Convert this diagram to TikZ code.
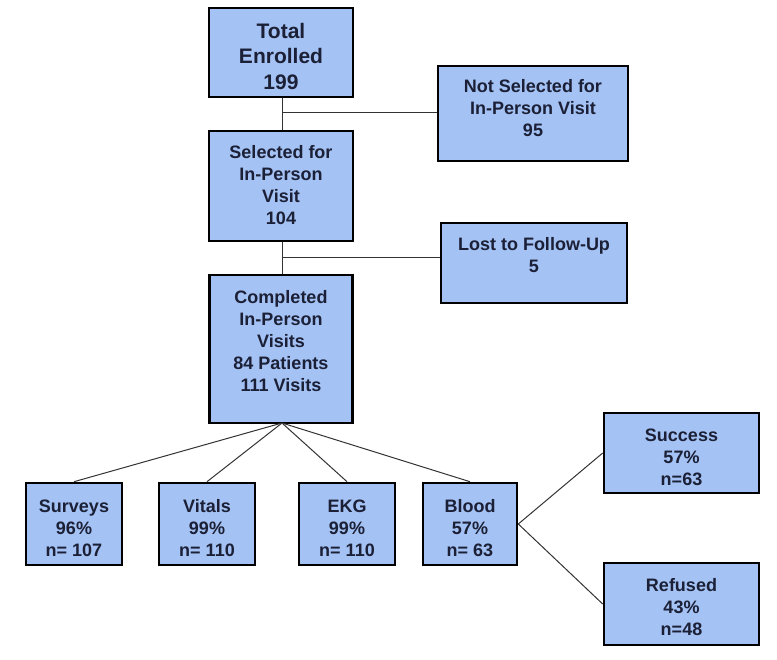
\documentclass[tikz,border=0pt]{standalone}
\usepackage{fontspec}
\setmainfont{Liberation Sans}
\definecolor{boxfill}{HTML}{A4C2F4}
\definecolor{txtcol}{HTML}{1B2036}
\definecolor{linecol}{HTML}{333333}
\begin{document}
\begin{tikzpicture}[x=1pt,y=-1pt,
  box/.style={draw=black, line width=2.6pt, fill=boxfill, rectangle, inner sep=0pt},
  txt/.style={align=center, font=\bfseries\fontsize{18}{22}\selectfont, text=txtcol, inner sep=0pt},
  bigtxt/.style={align=center, font=\bfseries\fontsize{21}{25.5}\selectfont, text=txtcol, inner sep=0pt},
  conn/.style={draw=linecol, line width=1pt}]
\useasboundingbox (0,0) rectangle (777,660);
% boxes
\node[box, minimum width=144pt, minimum height=89pt] (tot) at (281,52.5) {};
\node[box, minimum width=190pt, minimum height=95pt] (nots) at (533,113.5) {};
\node[box, minimum width=144pt, minimum height=110pt] (sel) at (281,186) {};
\node[box, minimum width=186pt, minimum height=80pt] (lost) at (534,263) {};
\node[box, minimum width=143pt, minimum height=148pt] (comp) at (281,349) {};
\node[box, minimum width=96pt, minimum height=82pt] (surv) at (74,524) {};
\node[box, minimum width=96pt, minimum height=82pt] (vit) at (207,524) {};
\node[box, minimum width=96pt, minimum height=82pt] (ekg) at (347,524) {};
\node[box, minimum width=94pt, minimum height=82pt] (blood) at (470,524) {};
\node[box, minimum width=155pt, minimum height=80pt] (succ) at (681.5,453) {};
\node[box, minimum width=155pt, minimum height=82pt] (ref) at (681.5,604) {};
% texts
\node[bigtxt] (totT) at (281,56) {Total\\Enrolled\\199};
\node[txt] (notsT) at (533,108) {Not Selected for\\In-Person Visit\\95};
\node[txt] (selT) at (281,185) {Selected for\\In-Person\\Visit\\104};
\node[txt] (lostT) at (534,255.5) {Lost to Follow-Up\\5};
\node[txt] (compT) at (281,341) {Completed\\In-Person\\Visits\\84 Patients\\111 Visits};
\node[txt] (survT) at (74,528) {Surveys\\96\%\\n= 107};
\node[txt] (vitT) at (207,528) {Vitals\\99\%\\n= 110};
\node[txt] (ekgT) at (347,528) {EKG\\99\%\\n= 110};
\node[txt] (bloodT) at (470,528) {Blood\\57\%\\n= 63};
\node[txt] (succT) at (681.5,457) {Success\\57\%\\n=63};
\node[txt] (refT) at (681.5,607) {Refused\\43\%\\n=48};
% connectors
\coordinate (j1) at (282,113);
\coordinate (j2) at (282,258);
\draw[conn] (tot.south -| j1) -- (sel.north -| j1);
\draw[conn] (j1) -- (j1 -| nots.west);
\draw[conn] (sel.south -| j2) -- (comp.north -| j2);
\draw[conn] (j2) -- (j2 -| lost.west);
\coordinate (c0) at (282,423);
\draw[conn] (c0) -- (surv.north);
\draw[conn] (c0) -- (vit.north);
\draw[conn] (c0) -- (ekg.north);
\draw[conn] (c0) -- (blood.north);
\draw[conn] (blood.east) -- (succ.west);
\draw[conn] (blood.east) -- (ref.west);
\end{tikzpicture}
\end{document}
